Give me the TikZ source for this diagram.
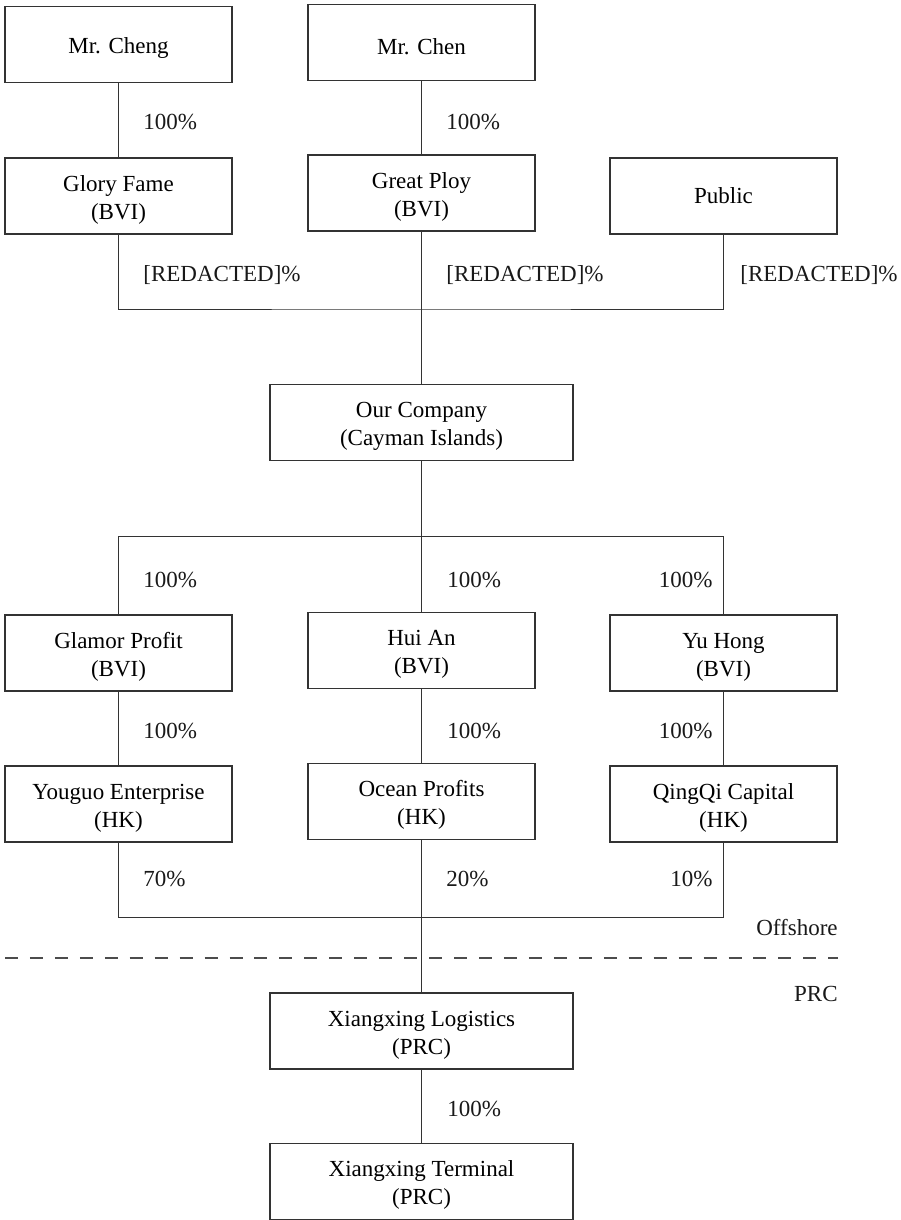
\documentclass[tikz,border=0pt]{standalone}
\usepackage{fontspec}
\setmainfont{Liberation Serif}
\usepackage{tikz}
\newcommand\boxstrut{\rule{0pt}{1.02em}}

\begin{document}
\begin{tikzpicture}[x=0.02cm,y=-0.02cm,
  font=\fontsize{13.1pt}{15.9pt}\selectfont,
  box/.style={draw=black!80,line width=0.8pt,minimum width=4.54cm,
    minimum height=1.52cm,align=center,inner sep=0pt},
  widebox/.style={box,minimum width=6.06cm},
  pct/.style={anchor=base west,inner sep=0pt,text=black!90},
  pctleft/.style={anchor=base east,inner sep=0pt,text=black!90},
  link/.style={draw=black!80,line width=0.55pt}]
  %uncomment to see grid on which it was generated:
  %\draw[dotted,step=100,black,very thin] (0,0) grid (901,1220);
  \useasboundingbox (0,0) rectangle (901,1220);

  % shareholders
  \node[box] (cheng) at (118.5,44.5) {\boxstrut Mr. Cheng};
  \node[box] (chen) at (421.5,42.5) {\boxstrut Mr. Chen};
  \node[box] (glory) at (118.5,196) {\boxstrut Glory Fame\\(BVI)};
  \node[box] (ploy) at (421.5,193) {\boxstrut Great Ploy\\(BVI)};
  \node[box] (public) at (723.5,196) {Public};

  % listed company
  \node[widebox] (ourco) at (421.5,422.5) {\boxstrut Our Company\\(Cayman Islands)};

  % offshore subsidiaries
  \node[box] (glamor) at (118.5,653) {\boxstrut Glamor Profit\\(BVI)};
  \node[box] (huian) at (421.5,650.5) {\boxstrut Hui An\\(BVI)};
  \node[box] (yuhong) at (723.5,653) {\boxstrut Yu Hong\\(BVI)};
  \node[box] (youguo) at (118.5,804) {\boxstrut Youguo Enterprise\\(HK)};
  \node[box] (ocean) at (421.5,801.5) {\boxstrut Ocean Profits\\(HK)};
  \node[box] (qingqi) at (723.5,804) {\boxstrut QingQi Capital\\(HK)};

  % PRC companies
  \node[widebox] (logistics) at (421.5,1031) {\boxstrut Xiangxing Logistics\\(PRC)};
  \node[widebox] (terminal) at (421.5,1181.5) {\boxstrut Xiangxing Terminal\\(PRC)};

  % junction points of the bars
  \coordinate (holdbar) at (421.5,309);
  \coordinate (subbar) at (421.5,536.5);
  \coordinate (hkbar) at (421.5,917);

  % ownership lines
  \draw[link] (cheng) -- (glory);
  \draw[link] (chen) -- (ploy);
  \draw[link] (glory.south) |- (holdbar) -| (public.south);
  \draw[link] (ploy) -- (ourco);
  \draw[link] (ourco) -- (huian);
  \draw[link] (glamor.north) |- (subbar) -| (yuhong.north);
  \draw[link] (glamor) -- (youguo);
  \draw[link] (huian) -- (ocean);
  \draw[link] (yuhong) -- (qingqi);
  \draw[link] (youguo.south) |- (hkbar) -| (qingqi.south);
  \draw[link] (ocean) -- (logistics);
  \draw[link] (logistics) -- (terminal);

  % percentages
  \node[pct] (pcheng) at (143,130) {100\%};
  \node[pct] (pchen) at (446,130) {100\%};
  \node[pct] (pglory) at (143,281) {[REDACTED]\%};
  \node[pct] (pploy) at (446,281) {[REDACTED]\%};
  \node[pct] (ppublic) at (740,281) {[REDACTED]\%};
  \node[pct] (pglamor) at (143,587) {100\%};
  \node[pct] (phuian) at (447,587) {100\%};
  \node[pctleft] (pyuhong) at (713,587) {100\%};
  \node[pct] (pyouguo) at (143,738) {100\%};
  \node[pct] (pocean) at (447,738) {100\%};
  \node[pctleft] (pqingqi) at (713,738) {100\%};
  \node[pct] (pseventy) at (143,886) {70\%};
  \node[pct] (ptwenty) at (446,886) {20\%};
  \node[pctleft] (pten) at (713,886) {10\%};
  \node[pct] (pterminal) at (447,1116) {100\%};

  % offshore / PRC boundary
  \coordinate (sepwest) at (5,958);
  \coordinate (sepeast) at (838,958);
  \draw[black!70,line width=0.8pt,dash pattern=on 7.4pt off 6.8pt] (sepwest) -- (sepeast);
  \node[pctleft] (offshore) at (838,935) {Offshore};
  \node[pctleft] (prc) at (838,1001) {PRC};

\end{tikzpicture}
\end{document}
